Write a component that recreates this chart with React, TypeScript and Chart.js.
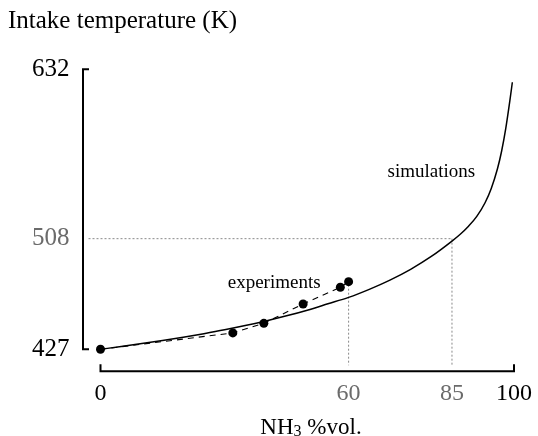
import React, { useEffect, useRef } from "react";
import { Chart, registerables } from "chart.js";

Chart.register(...registerables);

// Simulation curve (NH3 %vol -> intake temperature K)
const simX = [0, 5, 10, 15, 20, 25, 30, 35, 40, 45, 50, 55, 60, 65, 70, 75, 80, 85, 87, 89, 91, 93, 94.5, 96, 97, 98, 99, 99.6];
const simY = [427, 429.05, 431.2, 433.45, 435.85, 438.45, 441.25, 444.35, 447.75, 451.5, 455.65, 460.3, 465, 470.9, 477.65, 485.55, 494.95, 506.2, 511.2, 517.1, 524.3, 534.3, 544.8, 559.2, 572, 588.5, 609, 622.5];

// Experimental points
const expX = [0, 32, 39.5, 49, 58, 60];
const expY = [427, 439, 446, 460.2, 472.4, 476.5];

// Tick labels
const xTicks = [0, 60, 85, 100];
const yTicks = [427, 508, 632];
const grayTicks = [60, 85, 508];

// Guides
const guideX = [60, 85];
const guideY = 508;

const SERIF = '"Liberation Serif", "Times New Roman", Times, serif';
const GRAY = "#6b6b6b";

export default function App() {
  const ref = useRef<HTMLCanvasElement | null>(null);

  useEffect(() => {
    if (!ref.current) return;

    const decor = {
      id: "decor",
      beforeDatasetsDraw(chart: any) {
        const { ctx, scales } = chart;
        const xs = scales.x;
        const ys = scales.y;
        const axisY = chart.chartArea.bottom + 22;
        ctx.save();
        ctx.strokeStyle = "#8a8a8a";
        ctx.lineWidth = 1;
        ctx.setLineDash([2, 2]);
        const gy = ys.getPixelForValue(guideY);
        ctx.beginPath();
        ctx.moveTo(chart.chartArea.left - 12, gy);
        ctx.lineTo(xs.getPixelForValue(guideX[1]), gy);
        ctx.stroke();
        const tops = [expY[expY.length - 1], guideY];
        guideX.forEach((gx, i) => {
          const px = xs.getPixelForValue(gx);
          ctx.beginPath();
          ctx.moveTo(px, ys.getPixelForValue(tops[i]) + (i === 0 ? 3 : 0));
          ctx.lineTo(px, axisY - 6);
          ctx.stroke();
        });
        ctx.restore();
      },
      afterDraw(chart: any) {
        const { ctx, scales, chartArea } = chart;
        const xs = scales.x;
        const ys = scales.y;
        ctx.save();
        ctx.setLineDash([]);
        ctx.strokeStyle = "#000";
        ctx.lineWidth = 2;
        ctx.lineJoin = "miter";
        ctx.lineCap = "butt";
        const ax = chartArea.left - 17.5;
        const yT = ys.getPixelForValue(632);
        const yB = ys.getPixelForValue(427);
        ctx.beginPath();
        ctx.moveTo(ax + 6, yT);
        ctx.lineTo(ax, yT);
        ctx.lineTo(ax, yB);
        ctx.lineTo(ax + 6, yB);
        ctx.stroke();
        const axisY = chartArea.bottom + 22;
        const x0 = xs.getPixelForValue(0);
        const x1 = xs.getPixelForValue(100);
        ctx.beginPath();
        ctx.moveTo(x0, axisY - 7);
        ctx.lineTo(x0, axisY);
        ctx.lineTo(x1, axisY);
        ctx.lineTo(x1, axisY - 7);
        ctx.stroke();

        ctx.fillStyle = "#000";
        ctx.textBaseline = "middle";
        ctx.font = `25px ${SERIF}`;
        ctx.textAlign = "left";
        ctx.fillText("Intake temperature (K)", 8, 21);

        ctx.font = `19px ${SERIF}`;
        ctx.textAlign = "center";
        ctx.fillText("experiments", xs.getPixelForValue(42), ys.getPixelForValue(475.3));
        ctx.fillText("simulations", xs.getPixelForValue(80), ys.getPixelForValue(557));

        const big = `23px ${SERIF}`;
        const small = `16px ${SERIF}`;
        ctx.textBaseline = "alphabetic";
        ctx.textAlign = "left";
        ctx.font = big;
        const w1 = ctx.measureText("NH").width;
        const w3 = ctx.measureText(" %vol.").width;
        ctx.font = small;
        const w2 = ctx.measureText("3").width;
        const total = w1 + w2 + w3;
        const cx = 311;
        let sx = cx - total / 2;
        const base = 433.5;
        ctx.font = big;
        ctx.fillText("NH", sx, base);
        sx += w1;
        ctx.font = small;
        ctx.fillText("3", sx, base + 2.5);
        sx += w2;
        ctx.font = big;
        ctx.fillText(" %vol.", sx, base);
        ctx.restore();
      },
    };

    const chart = new Chart(ref.current, {
      type: "line",
      data: {
        datasets: [
          {
            label: "simulations",
            data: simX.map((x, i) => ({ x, y: simY[i] })),
            borderColor: "#000",
            borderWidth: 1.5,
            pointRadius: 0,
            cubicInterpolationMode: "monotone",
            fill: false,
            clip: false as any,
          },
          {
            label: "experiments",
            data: expX.map((x, i) => ({ x, y: expY[i] })),
            borderColor: "#000",
            borderWidth: 1.1,
            borderDash: [6, 5],
            pointRadius: 4.5,
            pointBackgroundColor: "#000",
            pointBorderColor: "#000",
            pointBorderWidth: 0,
            tension: 0,
            fill: false,
            clip: false as any,
          },
        ],
      },
      options: {
        responsive: false,
        animation: false,
        events: [],
        layout: { padding: { top: 69.3, right: 24, bottom: 0, left: 0 } },
        plugins: { legend: { display: false }, tooltip: { enabled: false }, title: { display: false } },
        scales: {
          x: {
            type: "linear",
            position: "bottom",
            min: 0,
            max: 100,
            grid: { display: false, drawTicks: false },
            border: { display: false },
            afterBuildTicks: (s: any) => {
              s.ticks = xTicks.map((v) => ({ value: v }));
            },
            afterFit: (s: any) => {
              s.height = 86.7;
              s.paddingLeft = 0;
              s.paddingRight = 0;
            },
            ticks: {
              autoSkip: false,
              maxRotation: 0,
              padding: 30,
              font: { family: SERIF, size: 24 },
              color: (c: any) => (grayTicks.includes(c.tick?.value) ? GRAY : "#000"),
              callback: (v: any) => String(v),
            },
          },
          y: {
            type: "linear",
            position: "left",
            min: 427,
            max: 632,
            grid: { display: false, drawTicks: false },
            border: { display: false },
            afterBuildTicks: (s: any) => {
              s.ticks = yTicks.map((v) => ({ value: v }));
            },
            afterFit: (s: any) => {
              s.width = 100.5;
              s.paddingTop = 0;
              s.paddingBottom = 0;
            },
            ticks: {
              padding: 31,
              font: { family: SERIF, size: 25 },
              color: (c: any) => (grayTicks.includes(c.tick?.value) ? GRAY : "#000"),
              callback: (v: any) => String(v),
            },
          },
        },
      },
      plugins: [decor],
    });

    return () => chart.destroy();
  }, []);

  return (
    <div style={{ position: "fixed", left: 0, top: 0, width: 538, height: 436, background: "#fff" }}>
      <canvas ref={ref} width={538} height={436} style={{ display: "block" }} />
    </div>
  );
}
